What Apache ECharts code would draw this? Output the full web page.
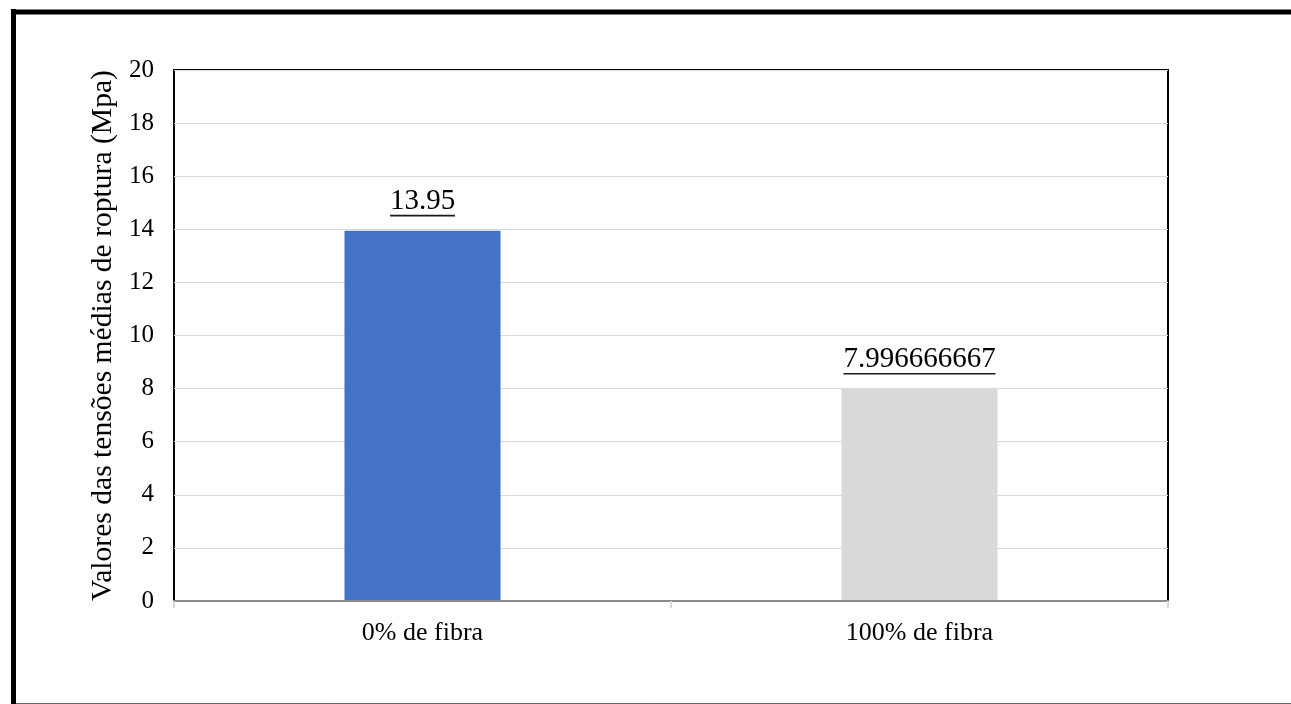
<!DOCTYPE html>
<html>
<head>
<meta charset="utf-8">
<script src="https://cdn.jsdelivr.net/npm/echarts@6/dist/echarts.min.js"></script>
<style>
  html, body { margin: 0; padding: 0; background: #fff; }
  #chart { width: 1291px; height: 704px; }
</style>
</head>
<body>
<div id="chart"></div>
<script>
// Categories and mean rupture stresses (MPa)
const categories = ['0% de fibra', '100% de fibra'];
const values = [13.95, 7.996666667];
const barColors = ['#4472C4', '#D9D9D9'];
const yTicks = { min: 0, max: 20, interval: 2 };
const yAxisTitle = 'Valores das tensões médias de roptura (Mpa)';

const FONT = '"Liberation Serif", "Times New Roman", serif';
const LABEL_SIZE = 29;

// Measure label text so the underline spans it exactly
const measureCtx = document.createElement('canvas').getContext('2d');
measureCtx.font = LABEL_SIZE + 'px ' + FONT;
const labelTexts = values.map(v => String(v));
const rich = {
  v: { fontFamily: FONT, fontSize: LABEL_SIZE, color: '#000', lineHeight: 27 }
};
labelTexts.forEach((t, i) => {
  rich['u' + i] = {
    width: Math.round(measureCtx.measureText(t).width),
    height: 1.6,
    lineHeight: 2,
    backgroundColor: '#1a1a1a'
  };
});

const chart = echarts.init(document.getElementById('chart'), null, { renderer: 'canvas' });

chart.setOption({
  animation: false,
  backgroundColor: '#fff',
  grid: {
    left: 174, right: 123, top: 70, bottom: 103,
    show: true, borderColor: '#000', borderWidth: 2, backgroundColor: 'transparent'
  },
  xAxis: {
    type: 'category',
    data: categories,
    z: 5,
    axisLine: { show: true, lineStyle: { color: '#8a8a8a', width: 2 } },
    axisTick: { show: true, length: 7, lineStyle: { color: '#d9d9d9', width: 2 } },
    axisLabel: { fontFamily: FONT, fontSize: 26, color: '#000', margin: 19 }
  },
  yAxis: {
    type: 'value',
    min: yTicks.min, max: yTicks.max, interval: yTicks.interval,
    name: yAxisTitle,
    nameLocation: 'middle',
    nameGap: 54,
    nameTextStyle: { fontFamily: FONT, fontSize: 29.6, color: '#000' },
    axisLine: { show: false },
    axisTick: { show: false },
    axisLabel: { fontFamily: FONT, fontSize: 25, color: '#000', margin: 20 },
    splitLine: { lineStyle: { color: '#d9d9d9', width: 1 } }
  },
  series: [{
    type: 'bar',
    barWidth: '31.4%',
    data: values.map((v, i) => ({ value: v, itemStyle: { color: barColors[i] } })),
    label: {
      show: true,
      position: 'top',
      distance: 14,
      formatter: p => '{v|' + labelTexts[p.dataIndex] + '}\n{u' + p.dataIndex + '|}',
      rich: rich
    }
  }],
  graphic: [
    // outer frame: heavy left and top edges, thin bottom edge
    { type: 'line', shape: { x1: 13.5, y1: 9, x2: 13.5, y2: 704 }, style: { stroke: '#000', lineWidth: 5 }, z: 10 },
    { type: 'line', shape: { x1: 11, y1: 12, x2: 1291, y2: 12 }, style: { stroke: '#000', lineWidth: 5 }, z: 10 },
    { type: 'line', shape: { x1: 16, y1: 703.5, x2: 1291, y2: 703.5 }, style: { stroke: '#666', lineWidth: 1 }, z: 10 }
  ]
});
</script>
</body>
</html>
